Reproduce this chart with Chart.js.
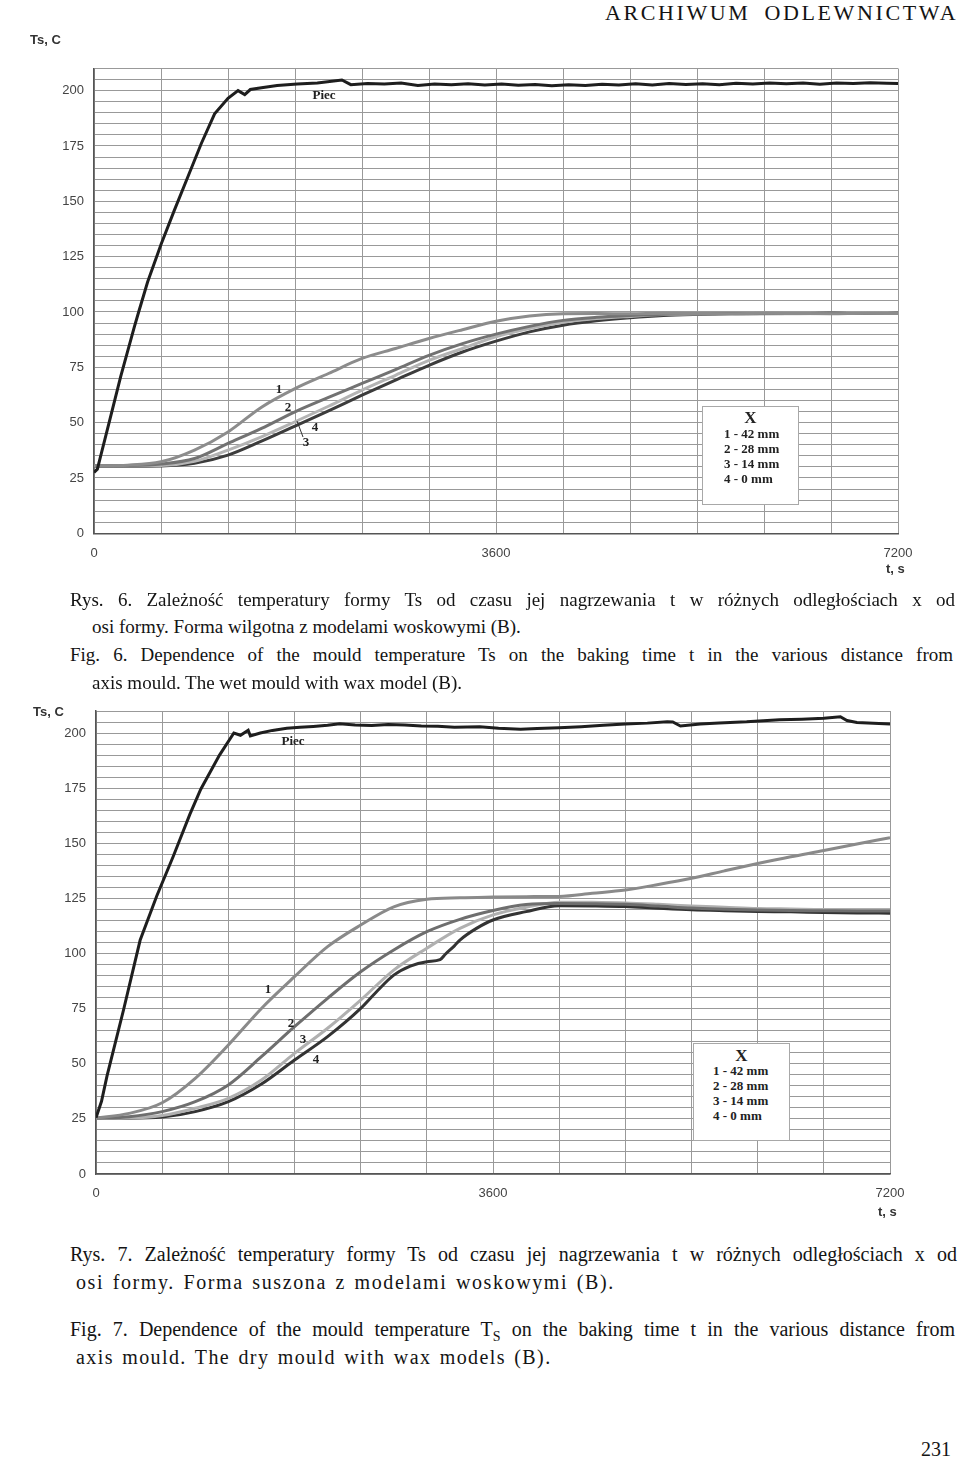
<!DOCTYPE html>
<html>
<head>
<meta charset="utf-8">
<script src="https://cdn.jsdelivr.net/npm/chart.js@4.4.0/dist/chart.umd.min.js"></script>
<style>
    body { margin: 0; background: #fff; width: 960px; height: 1463px; position: relative; overflow: hidden; font-family: "Liberation Serif", "Times New Roman", serif; color: #141414; }
    canvas { position: absolute; left: 0; }
    .txt { position: absolute; line-height: 24px; text-align: justify; text-align-last: justify; }
    .short { position: absolute; line-height: 24px; white-space: nowrap; }
    .lbl { position: absolute; transform: translate(-50%, -50%); font-weight: bold; font-size: 13px; white-space: nowrap; color: #222; }
    .axt { position: absolute; font-family: "Liberation Sans", Arial, sans-serif; font-weight: bold; font-size: 13px; color: #333; white-space: nowrap; }
    .box { position: absolute; background: #fff; border: 1px solid #a8a8a8; font-weight: bold; font-size: 13px; color: #222; }
    .box div { position: absolute; white-space: nowrap; line-height: 15px; }
</style>
</head>
<body>

<div class="short" style="left:605px; top:1px; font-size:22px; letter-spacing:2.6px; word-spacing:6px;">ARCHIWUM ODLEWNICTWA</div>

<canvas id="chartWet" width="930" height="530" style="top:40px"></canvas>
<canvas id="chartDry" width="930" height="520" style="top:690px"></canvas>

<div class="axt" style="left:30px; top:32px;">Ts, C</div>
<div class="axt" style="left:886px; top:561px;">t, s</div>
<div class="axt" style="left:33px; top:704px;">Ts, C</div>
<div class="axt" style="left:878px; top:1204px;">t, s</div>

<div class="lbl" style="left:324px; top:95px;">Piec</div>
<div class="lbl" style="left:279px; top:389px;">1</div>
<div class="lbl" style="left:288px; top:407px;">2</div>
<div class="lbl" style="left:315px; top:427px;">4</div>
<div class="lbl" style="left:306px; top:442px;">3</div>
<svg style="position:absolute; left:0; top:0;" width="960" height="600"><line x1="297" y1="421" x2="303" y2="437" stroke="#333" stroke-width="1"/></svg>

<div class="box" style="left:702px; top:406px; width:95px; height:97px;">
    <div style="left:0; width:95px; top:2px; text-align:center; font-size:17px; line-height:18px;">X</div>
    <div style="left:21px; top:19px;">1 - 42 mm</div>
    <div style="left:21px; top:34px;">2 - 28 mm</div>
    <div style="left:21px; top:49px;">3 - 14 mm</div>
    <div style="left:21px; top:64px;">4 - 0 mm</div>
</div>

<div class="lbl" style="left:293px; top:741px;">Piec</div>
<div class="lbl" style="left:268px; top:989px;">1</div>
<div class="lbl" style="left:291px; top:1023px;">2</div>
<div class="lbl" style="left:303px; top:1039px;">3</div>
<div class="lbl" style="left:316px; top:1059px;">4</div>

<div class="box" style="left:693px; top:1043px; width:95px; height:96px;">
    <div style="left:0; width:95px; top:3px; text-align:center; font-size:17px; line-height:18px;">X</div>
    <div style="left:19px; top:19px;">1 - 42 mm</div>
    <div style="left:19px; top:34px;">2 - 28 mm</div>
    <div style="left:19px; top:49px;">3 - 14 mm</div>
    <div style="left:19px; top:64px;">4 - 0 mm</div>
</div>

<div class="txt" style="left:70px; top:588px; width:885px; font-size:19px;">Rys. 6. Zależność temperatury formy Ts od czasu jej nagrzewania t w różnych odległościach x od</div>
<div class="short" style="left:92px; top:615px; font-size:19px;">osi formy. Forma wilgotna z modelami woskowymi (B).</div>
<div class="txt" style="left:70px; top:643px; width:883px; font-size:19px;">Fig. 6. Dependence of the mould temperature Ts on the baking time t in the various distance from</div>
<div class="short" style="left:92px; top:671px; font-size:19px;">axis mould. The wet mould with wax model (B).</div>

<div class="txt" style="left:70px; top:1242px; width:887px; font-size:20px;">Rys. 7. Zależność temperatury formy Ts od czasu jej nagrzewania t w różnych odległościach x od</div>
<div class="short" style="left:76px; top:1270px; font-size:20px; letter-spacing:1.6px; word-spacing:2px;">osi formy. Forma suszona z modelami woskowymi (B).</div>
<div class="txt" style="left:70px; top:1317px; width:885px; font-size:20px;">Fig. 7. Dependence of the mould temperature T<sub style="font-size:14px;">S</sub> on the baking time t in the various distance from</div>
<div class="short" style="left:76px; top:1345px; font-size:20px; letter-spacing:1.4px; word-spacing:2px;">axis mould. The dry mould with wax models (B).</div>

<div class="short" style="left:921px; top:1437px; font-size:20px;">231</div>

<script>
// time axis, s (every 300 s)
const timeSteps = [0, 300, 600, 900, 1200, 1500, 1800, 2100, 2400, 2700, 3000, 3300, 3600, 3900, 4200, 4500, 4800, 5100, 5400, 5700, 6000, 6300, 6600, 6900, 7200];
const xTickLabels = [0, 3600, 7200];
const yTickLabels = [0, 25, 50, 75, 100, 125, 150, 175, 200];

// Rys. 6 - wet mould
const wetPiecTime = [0, 30, 60, 120, 240, 360, 400, 480, 600, 720, 840, 960, 1080, 1200, 1290, 1350, 1400, 1500, 1640, 1820, 2000, 2220, 2300, 2450, 2600, 2750, 2900, 3050, 3200, 3350, 3500, 3650, 3800, 3950, 4100, 4250, 4400, 4550, 4700, 4850, 5000, 5150, 5300, 5450, 5600, 5750, 5900, 6050, 6200, 6350, 6500, 6650, 6800, 6950, 7100, 7200];
const wetPiec = [27.5, 29, 35, 47, 71, 93, 100, 113.5, 130.5, 146, 161, 176, 189.5, 196.5, 200, 198.2, 200.5, 201.3, 202.3, 203, 203.4, 204.8, 202.7, 203.2, 203, 203.4, 202.3, 203, 202.7, 203.1, 202.6, 203, 202.4, 202.8, 202.2, 202.7, 202.3, 202.9, 202.5, 203.1, 202.6, 203.2, 202.8, 203.1, 202.7, 203.3, 203, 203.5, 203.1, 203.4, 202.9, 203.4, 203.2, 203.6, 203.3, 203.2];
const wet42mm = [30.5, 30.8, 32.3, 37.6, 45.8, 57.0, 65.4, 72.2, 79.0, 83.5, 88.0, 92.0, 95.8, 98.2, 99.2, 99.3, 99.2, 99.4, 99.3, 99.2, 99.4, 99.3, 99.2, 99.4, 99.3];
const wet28mm = [30.5, 30.6, 31.3, 33.8, 40.6, 47.4, 54.9, 61.4, 67.7, 74.0, 80.4, 85.7, 90.0, 93.5, 96.2, 97.6, 98.4, 99.0, 99.2, 99.3, 99.2, 99.3, 99.4, 99.3, 99.3];
const wet14mm = [30.5, 30.5, 30.6, 32.5, 37.6, 43.6, 50.4, 57.4, 64.7, 71.4, 78.1, 83.5, 88.8, 92.5, 95.3, 97.0, 98.0, 98.8, 99.1, 99.2, 99.3, 99.2, 99.3, 99.4, 99.3];
const wet0mm = [30.3, 30.3, 30.4, 31.6, 35.3, 41.6, 48.4, 55.3, 62.4, 69.2, 75.9, 81.9, 86.8, 91.0, 94.0, 96.0, 97.4, 98.4, 98.9, 99.2, 99.3, 99.3, 99.4, 99.3, 99.4];

// Rys. 7 - dry mould
const dryPiecTime = [0, 50, 100, 250, 400, 550, 700, 850, 950, 1120, 1250, 1310, 1380, 1400, 1490, 1600, 1730, 1850, 1970, 2100, 2210, 2350, 2500, 2650, 2800, 2950, 3100, 3250, 3480, 3650, 3850, 4000, 4200, 4400, 4600, 4800, 5000, 5180, 5230, 5300, 5480, 5650, 5900, 6050, 6200, 6400, 6600, 6750, 6810, 6900, 7050, 7200];
const dryPiec = [25.5, 33, 44.5, 74.5, 106, 126, 144, 163, 174.5, 190, 200, 199, 201.3, 198.7, 200, 201.2, 202.2, 202.6, 203, 203.5, 204.2, 203.6, 203.4, 203.9, 203.6, 203.2, 203.1, 202.6, 202.9, 202.2, 201.7, 202.1, 202.4, 202.9, 203.5, 204.1, 204.5, 205.1, 205, 203.2, 204.1, 204.6, 205.1, 205.6, 206, 206.3, 206.7, 207.4, 205.7, 204.8, 204.4, 204.1];
const dry42mm = [25.3, 27.5, 32.3, 43.4, 58.5, 75.1, 89.5, 103.1, 112.9, 121.2, 124.6, 125.3, 125.6, 125.8, 125.9, 127.3, 128.8, 131.3, 134.1, 137.5, 140.8, 143.9, 146.7, 149.7, 152.5];
const dry28mm = [25.3, 26.0, 28.3, 32.8, 40.4, 53.2, 66.8, 79.7, 91.7, 101.6, 109.9, 115.5, 119.5, 122.2, 122.7, 122.6, 122.3, 121.5, 120.6, 120.1, 119.7, 119.5, 119.4, 119.3, 119.3];
const dry14mm = [25.3, 25.4, 26.5, 29.8, 34.3, 42.6, 54.7, 66.1, 78.9, 92.5, 102.4, 111.4, 117.5, 121.0, 123.3, 123.2, 122.9, 122.3, 121.6, 121.0, 120.4, 120.2, 120.0, 120.0, 120.0];
const dry0mmTime = [0, 300, 600, 900, 1200, 1500, 1800, 2100, 2400, 2550, 2700, 2850, 3000, 3120, 3170, 3250, 3300, 3450, 3600, 3900, 4200, 4500, 4800, 5100, 5400, 5700, 6000, 6300, 6600, 6900, 7200];
const dry0mm = [25.3, 25.3, 25.8, 28.3, 32.8, 40.8, 51.7, 62.3, 75.1, 83, 90.2, 94.3, 96.3, 97.2, 99.8, 103.5, 106.1, 111.4, 115.2, 119.0, 121.7, 121.6, 121.3, 120.5, 119.8, 119.4, 119.1, 118.9, 118.6, 118.4, 118.3];

const toPoints = (times, values) => times.map((t, i) => ({ x: t, y: values[i] }));

const lineSet = (label, times, values, color, width, smooth) => ({
    label: label,
    data: toPoints(times, values),
    borderColor: color,
    borderWidth: width,
    pointRadius: 0,
    fill: false,
    tension: smooth ? 0.4 : 0,
    cubicInterpolationMode: smooth ? 'monotone' : 'default'
});

const tickFont = { family: 'Liberation Sans', size: 13 };

const createChart = (ctx, datasets, yWidth, xHeight, padTop, padRight) => new Chart(ctx, {
    type: 'line',
    data: { datasets: datasets },
    options: {
        responsive: false,
        animation: false,
        layout: { padding: { top: padTop, right: padRight, left: 0, bottom: 0 } },
        scales: {
            x: {
                type: 'linear',
                min: 0,
                max: 7200,
                afterFit: (s) => { s.height = xHeight; },
                ticks: {
                    stepSize: 600,
                    autoSkip: false,
                    maxRotation: 0,
                    padding: 12,
                    color: '#444',
                    font: tickFont,
                    callback: (v) => xTickLabels.includes(v) ? String(v) : ''
                },
                grid: { color: '#999', lineWidth: 1, drawTicks: false },
                border: { color: '#555', width: 1.5 }
            },
            y: {
                type: 'linear',
                min: 0,
                max: 210,
                afterFit: (s) => { s.width = yWidth; },
                ticks: {
                    stepSize: 5,
                    autoSkip: false,
                    padding: 10,
                    color: '#444',
                    font: tickFont,
                    callback: (v) => yTickLabels.includes(v) ? String(v) : ''
                },
                grid: { color: '#999', lineWidth: 1, drawTicks: false },
                border: { color: '#555', width: 1.5 }
            }
        },
        plugins: {
            legend: { display: false },
            tooltip: { enabled: false }
        }
    }
});

const wetChart = createChart(
    document.getElementById('chartWet').getContext('2d'),
    [
        lineSet('Piec', wetPiecTime, wetPiec, '#1e1e1e', 3, false),
        lineSet('1 - 42 mm', timeSteps, wet42mm, '#8c8c8c', 3, true),
        lineSet('2 - 28 mm', timeSteps, wet28mm, '#727272', 3, true),
        lineSet('3 - 14 mm', timeSteps, wet14mm, '#b4b4b4', 3, true),
        lineSet('4 - 0 mm', timeSteps, wet0mm, '#3c3c3c', 3, true)
    ],
    94, 36.7, 28.5, 32
);

const dryChart = createChart(
    document.getElementById('chartDry').getContext('2d'),
    [
        lineSet('Piec', dryPiecTime, dryPiec, '#1e1e1e', 3, false),
        lineSet('1 - 42 mm', timeSteps, dry42mm, '#8a8a8a', 3, true),
        lineSet('2 - 28 mm', timeSteps, dry28mm, '#6e6e6e', 3, true),
        lineSet('3 - 14 mm', timeSteps, dry14mm, '#b0b0b0', 3, true),
        lineSet('4 - 0 mm', dry0mmTime, dry0mm, '#333333', 3, true)
    ],
    96, 36, 21, 40
);
</script>
</body>
</html>
